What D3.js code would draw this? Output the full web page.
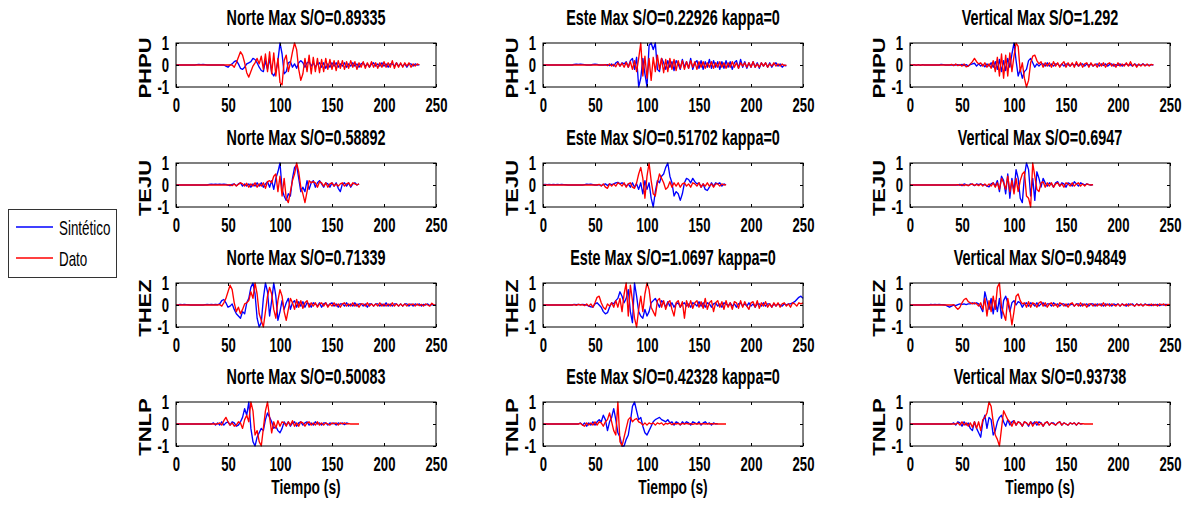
<!DOCTYPE html>
<html><head><meta charset="utf-8">
<script src="https://cdn.jsdelivr.net/npm/d3@7"></script>
<style>
body{margin:0;background:#fff;}
svg{display:block;font-family:"Liberation Sans",Arial,Helvetica,sans-serif;}
</style>
</head><body>
<svg id="c" width="1189" height="510"></svg>
<script>
// ---------------- DATA ----------------
const sampleInterval = 2; // seconds between samples
const stations = ["PHPU","TEJU","THEZ","TNLP"];
const components = ["Norte","Este","Vertical"];
const ratioNorte = ["0.89335","0.58892","0.71339","0.50083"];
const ratioEste = ["0.22926","0.51702","1.0697","0.42328"];
const ratioVertical = ["1.292","0.6947","0.94849","0.93738"];
const kappaSuffix = ["", " kappa=0", ""];
const xTicks = [0,50,100,150,200,250];
const yTicks = [-1,0,1];
const yTickLabels = ["-1","0","1"];
const xLabel = "Tiempo (s)";
const legendLabels = ["Sintético","Dato"];

// PHPU
const norte_PHPU_dato = [0,0,0,0,0,0,0,0,0,0,0,0,0,0,0,0,0,0,0,0,0,0,0,0,0,0,0,0,
-0.1,0.1,0.35,0.6,0.45,0.1,-0.35,-0.55,-0.3,-0.05,
0.1,0.3,0.05,0.4,-0.2,0.5,-0.3,0.6,-0.4,0.55,
-0.5,0.3,-0.8,-0.9,0.2,0.45,-0.3,0.1,0.6,1.0,
0.7,-0.2,-0.7,-0.4,0.3,-0.3,0.45,-0.4,0.35,-0.3,
0.3,-0.35,0.25,-0.3,0.3,-0.2,0.25,-0.2,0.2,-0.25,
0.2,-0.15,0.2,-0.2,0.15,-0.15,0.2,-0.1,0.15,-0.2,
0.1,-0.1,0.15,-0.15,0.1,-0.1,0.15,-0.1,0.1,-0.15,
0.1,-0.1,0.15,-0.1,0.1,-0.1,0.2,-0.15,0.1,-0.1,
0.1,-0.1,0.1,-0.05,0.1,-0.1,0.05,-0.05,0.05,0];
const norte_PHPU_sint = [0,0,0,0,0,0,0,0,0,0,
0.02,0.03,0.02,0.03,0.02,0,
0,0,0,0,0,0,0,0,
-0.05,-0.1,0,0.05,0.15,0.2,0.05,-0.15,-0.2,-0.1,
0.05,0.1,0.15,0.3,0.25,0.1,-0.1,-0.25,-0.3,0.2,
-0.2,0.3,-0.35,-0.5,-0.3,0.2,1.0,0.5,-0.4,-0.3,
0.1,0.15,-0.1,0.05,-0.15,0.1,0.2,0.1,-0.1,0.1,
0.15,-0.05,0.1,-0.1,0.05,0.1,-0.1,0.1,-0.15,0.05,
-0.1,0.1,-0.05,0.1,-0.1,0.05,-0.05,0.1,-0.1,0.05,
-0.05,0.1,-0.05,0.05,-0.1,0.05,0.1,-0.05,0.05,-0.1,
0.05,0.1,-0.05,0.05,-0.05,0.1,-0.05,0.05,-0.1,0.05,
0.05,-0.05,0.1,-0.05,0.05,-0.05,0.05,-0.1,0.05,0.05,
-0.05,0.05,0,0.02];
const este_PHPU_dato = [0,0,0,0,0,0,0,0,0,0,0,0,0,0,0,0,0,0,0,0,0,0,0,0,0,0,0,0,0,0,
0.02,-0.03,0.05,-0.05,0.03,-0.08,0.1,-0.05,0.08,-0.1,
0.12,-0.1,0.15,-0.2,0.2,-0.3,0.3,1.0,-0.5,0.4,
-0.6,0.3,-0.7,0.35,-0.3,0.45,-0.2,0.3,-0.35,0.25,
-0.3,0.3,-0.2,0.25,-0.25,0.2,-0.15,0.2,-0.2,0.15,
-0.15,0.2,-0.1,0.15,-0.2,0.15,-0.1,0.15,-0.15,0.1,
-0.1,0.15,-0.15,0.1,-0.1,0.15,-0.1,0.1,-0.15,0.1,
-0.1,0.15,-0.1,0.1,-0.15,0.1,-0.05,0.1,-0.1,0.1,
-0.1,0.15,-0.1,0.05,-0.1,0.1,-0.05,0.1,-0.1,0.05,
-0.05,0.1,-0.05,0.05,-0.05,0.05,-0.03,0];
const este_PHPU_sint = [0,0,0,0,0,0,0,0,0,0,0,0,0,0,0,
0.03,0.04,0.03,0.04,0.03,0.02,0,0,0,0.03,
0.04,0.03,0,0,0,0,0.02,-0.03,0.05,-0.05,
0.1,0.15,-0.05,0.1,0.05,0.15,-0.1,0.2,0.3,-0.2,
0.35,-1.0,-0.6,0.3,-0.4,-1.0,0.9,1.0,0.7,1.0,
-0.2,-0.3,0.3,0.1,-0.2,0.2,-0.1,0.15,-0.25,0.2,
0.05,-0.2,0.25,-0.1,0.15,-0.15,0.3,-0.2,0.1,0.2,
-0.15,0.2,-0.2,0.15,-0.1,0.25,-0.15,0.2,-0.1,0.15,
-0.2,0.15,-0.15,0.2,-0.1,0.15,-0.2,0.1,0.2,-0.15,
0.25,-0.1,0.15,-0.15,0.1,-0.1,0.15,-0.1,0.1,-0.15,
0.1,-0.05,0.1,-0.1,0.1,-0.1,0.05,0.1,-0.05,0.05,
-0.1,0,-0.05];
const vert_PHPU_dato = [0,0,0,0,0,0,0,0,0,0,0,0,0,0,0,0,0,0,0,0,
0.03,-0.03,0.05,-0.03,0.02,-0.05,0.05,-0.08,-0.05,0.05,
0.15,0.3,0.15,0.05,0.1,-0.05,0.1,-0.1,0.05,-0.15,
0.2,-0.3,0.35,-0.5,0.5,-0.6,0.45,-0.5,0.55,-0.3,
0.4,1.0,0.85,-0.3,0.1,-0.6,-1.0,-0.7,0.1,0.4,
0.45,0.2,0.05,0.15,-0.1,0.1,-0.05,0.1,-0.1,0.15,
-0.05,0.1,-0.1,0.05,0.15,-0.1,0.1,-0.05,0.1,-0.1,
0.15,-0.05,0.1,-0.1,0.05,0.1,-0.1,0.1,-0.05,0.05,
-0.1,0.1,-0.05,0.1,-0.1,0.05,0.1,-0.05,0.05,-0.1,
0.1,-0.05,0.05,-0.05,0.1,-0.05,0.15,-0.05,0.05,-0.1,
0.05,-0.05,0.05,-0.05,0.05,-0.05,0.03,0];
const vert_PHPU_sint = [0.02,-0.02,0.02,-0.02,0.02,-0.02,0.02,0,
0,0,0,0,0,0,0,
0.03,0.02,
0,0,0,0,0,0,
0.02,-0.02,0.03,-0.03,0.02,-0.05,0.02,0.05,0.08,-0.05,
0.05,-0.05,0.03,-0.08,0.05,-0.05,0.1,-0.1,0.15,-0.2,
0.25,-0.3,0.2,-0.25,0.3,-0.1,0.5,1.0,0.2,-0.5,
-0.2,-0.6,-0.3,-0.2,0.2,0.3,0.1,-0.1,0.05,-0.05,
0.05,0.05,-0.05,0.1,-0.05,0.05,-0.05,0.05,0.05,-0.05,
0.05,-0.05,0.05,0.02,-0.05,0.05,-0.02,0.05,-0.05,0.02,
0.05,-0.05,0.05,-0.02,0.05,-0.05,0.02,0.05,-0.05,0.05,
-0.02,0.05,-0.05,0.02,0.05,-0.05,0.02,-0.02,0.05,-0.05,
0.02,0.05,-0.02,0.02,-0.05,0.05,-0.02,0.02,-0.02,0.05,
-0.02,0.02,-0.02,0.02,0];

// TEJU
const norte_TEJU_dato = [0,0,0,0,0,0,0,0,0,0,0,0,0,0,0,0,0,0,0,0,0,0,0,0,0,0,
0.02,-0.03,0.05,-0.05,0.03,0.1,0.05,-0.05,0.08,-0.1,
0.05,-0.05,0.1,-0.1,0.05,-0.05,0.1,-0.15,0.15,0.2,
0.1,0.4,0.5,-0.3,0.4,-0.5,0.3,-0.6,-0.8,-0.3,
0.2,0.5,1.0,0.6,-0.1,-0.4,-0.8,-0.3,0.2,0.1,
0.15,0.1,-0.1,0.15,0.1,-0.05,0.1,-0.1,0.05,0.1,
-0.05,0.05,-0.05,0.05,0.1,-0.05,0.05,0.1,-0.05,0.1,
0.05,0,0.05];
const norte_TEJU_sint = [0,0,0,0,0,0,0,0,0,0,0,0,0,0,0,0,
0.03,0.04,0.03,0.04,0.03,0.04,0.03,0.04,0.03,0,
-0.03,0.03,0.05,-0.03,0.05,0.1,-0.05,0.05,-0.05,0.05,
-0.1,0.05,-0.05,0.1,-0.05,0.1,-0.1,0.05,0.15,-0.1,
0.2,-0.2,0.3,0.6,1.0,-0.2,-0.5,-0.7,-0.4,-0.5,
0.3,0.8,0.9,0.3,-0.3,-0.1,-0.3,0.2,-0.2,0.1,
0.2,-0.1,0.1,0.2,0.05,-0.1,0.1,0.05,-0.1,0.1,
-0.05,0.1,-0.15,-0.3,0.05,0.1,-0.05,0.1,-0.1,0.05,
0.1,0,0.05];
const este_TEJU_dato = [0,0,0,0,0,0,0,0,0,0,0,0,0,0,0,0,0,0,0,0,0,0,0,0,0,0,0,
0.03,-0.05,0.05,-0.1,-0.15,0.05,-0.05,0.05,-0.05,0.1,
0.05,-0.05,0.1,-0.1,0.05,0.1,-0.1,-0.15,0.1,0.5,
0.8,0.3,-0.6,0.4,1.0,0.2,-0.4,-0.5,0.1,0.5,
0.3,0.1,-0.2,-0.1,0.15,-0.1,0.1,-0.05,0.1,-0.1,
0.05,0.1,-0.05,0.05,-0.1,0.1,0.05,-0.05,0.1,-0.1,
0.05,-0.05,0.1,-0.05,0.05,-0.1,0.05,0.05,-0.05,0.05,
0,0.02];
const este_TEJU_sint = [0.02,0.03,0.02,0.03,0.02,0.03,0.02,0.03,0.02,0.03,0.02,0.01,
0,0,0,0,0,0,0,0,
0.02,0.04,0.03,0.04,0.02,0,0,0.02,-0.03,0.02,
0.05,-0.02,0.05,0.02,0.05,0.1,0.12,0.05,0.1,0.05,
-0.05,0.05,-0.1,0.1,-0.1,0.05,-0.2,0.1,-0.4,0.2,
-0.2,0.1,-0.6,-1.0,-0.3,0.2,0.1,0.4,0.5,0.8,
1.0,0.4,0.1,-0.5,-0.3,-0.4,-0.7,-0.4,0.1,0.3,
0.25,0.1,0.3,0.15,0.05,0.1,-0.1,0.05,-0.2,-0.25,
-0.1,0.1,-0.05,0.1,0.05,0.1,-0.05,0.05,0];
const vert_TEJU_dato = [0,0,0,0,0,0,0,0,0,0,0,0,0,0,0,0,0,0,0,0,0,0,0,
0.02,-0.02,0.03,-0.03,0.02,-0.03,0.02,0.05,-0.02,0.03,
-0.03,0.05,-0.05,0.05,-0.05,0.05,-0.05,0.1,-0.1,0.1,
-0.2,0.3,0.1,-0.2,0.4,-0.3,0.2,-0.4,0.3,-0.3,
0.2,0.5,0.6,-0.5,-0.6,-1.0,1.0,0.4,-0.2,-0.3,
0.1,0.15,-0.1,0.1,-0.05,0.1,-0.1,0.05,0.1,-0.05,
0.05,-0.1,0.1,0.05,-0.05,0.1,-0.05,0.05,0.1,-0.05,
0.05,-0.05,0.05,0.02,0,0.02];
const vert_TEJU_sint = [0,0,0,0,0,0,0,0,0,0,0,0,0,0,0,0,0,0,0,0,0,0,0,0,
0.03,-0.03,0.05,0.02,-0.03,0.05,0.03,-0.03,0.05,0.02,
0.05,0,0.02,-0.05,-0.08,0.05,0.1,-0.05,0.2,-0.3,
0.4,0.2,-0.4,0.5,-0.6,0.3,-0.3,0.7,0.3,-0.6,
-0.8,0.4,1.0,0.7,-0.5,0.3,-0.7,0.6,0.3,-0.1,
0.3,0.1,-0.05,0.1,0.05,-0.1,0.1,0.15,-0.05,0.1,
0.05,-0.1,0.1,0.05,-0.05,0.15,0.05,-0.05,0.1,0.05,
0,0.05,0.02,0,0.02];

// THEZ
const norte_THEZ_dato = [0,0,0,0,0,0,0,0,0,0,0,0,0,0,0,0,0,0,0,0,0,
0.02,-0.05,0.1,0.3,0.6,0.9,0.7,0.1,-0.3,-0.1,
-0.4,-0.2,0.05,0.1,0.2,0.6,0.3,1.0,0.5,-0.4,
-0.7,-1.0,-0.3,0.4,0.8,0.5,-0.2,-0.6,0.2,0.7,
0.4,-0.3,-0.7,-0.2,0.3,0.1,-0.2,0.25,-0.1,0.2,
-0.15,0.1,0.2,-0.1,0.1,-0.05,0.1,-0.1,0.05,0.1,
-0.05,0.1,-0.1,0.05,-0.05,0.1,-0.05,0.05,-0.1,0.05,
0.1,-0.05,0.05,-0.05,0.1,-0.05,0.05,-0.1,0.05,0.05,
-0.05,0.1,-0.05,0.05,-0.05,0.05,-0.05,0.1,-0.05,0.05,
-0.05,0.05,-0.05,0.1,-0.05,0.05,-0.05,0.05,-0.05,0.05,
-0.05,0.05,0,0.05,-0.05,0.05,-0.03,0.03,-0.05,0.05,
0,-0.05,0.08,0,-0.02];
const norte_THEZ_sint = [0,0,
0.03,0.02,0.03,0.02,0.01,
0,0,0,0,0,0,0,
0.02,0.03,0.02,0.03,0.02,0.03,0.02,0.05,0.2,0.25,
0.1,-0.1,-0.05,0.05,-0.2,-0.4,-0.5,-0.6,-0.3,-0.4,
0.1,0.3,0.8,1.0,0.5,-0.6,-1.0,-0.8,0.3,1.0,
0.6,-0.5,0.2,1.0,0.4,-0.7,-0.3,0.2,-0.2,0.1,
0.3,-0.2,0.1,0.2,-0.1,0.15,-0.05,0.15,-0.1,0.1,
0.05,-0.1,0.1,0.05,-0.05,0.1,-0.1,0.05,0.1,-0.05,
0.05,0.1,-0.05,0.05,-0.1,0.05,0.05,-0.05,0.1,-0.05,
0.05,-0.05,0.1,-0.05,0.05,0.05,-0.05,0.05,-0.1,0.05,
0.05,-0.05,0.05,0.05,-0.05,0.05,-0.05,0.1,-0.05,0.05,
-0.05,0.05,0.05,-0.05,0.05,-0.05,0.05,0.05,-0.05,0.05,
-0.05,0.05,0,0.05,-0.05,0.03,0,0.05,-0.03,0.03,
-0.02,0];
const este_THEZ_dato = [0,0,0,0,0,0,0,0,0,0,0,0,0,0,0,
0.02,-0.02,0.03,0,0.02,-0.03,0.05,-0.05,0.05,-0.1,
0.1,0.35,0.4,0.1,-0.1,-0.2,0.05,-0.05,0.1,-0.1,
0.2,-0.1,0.3,-0.3,0.5,1.0,-0.5,0.9,0.2,-0.6,
-1.0,-0.2,0.4,-0.3,0.5,1.0,0.7,-0.1,-0.3,-0.5,
0.2,0.3,-0.1,0.2,-0.2,0.1,0.2,-0.2,-0.5,0.1,
0.2,-0.1,0.15,-0.6,0.2,-0.1,0.2,-0.15,0.1,0.2,
-0.1,0.15,-0.15,0.3,-0.2,0.1,0.2,-0.3,0.1,0.2,
-0.1,0.15,-0.2,0.2,-0.1,0.1,-0.2,0.15,0.1,-0.15,
0.2,-0.1,0.15,-0.05,-0.2,0.1,0.15,-0.1,0.2,-0.15,
0.1,-0.05,0.15,-0.1,0.05,-0.1,0.1,-0.05,0.1,-0.1,
0.05,0.1,-0.05,0.05,-0.1,0.1,0.05,-0.05,0.1,0.05,
0.1];
const este_THEZ_sint = [0,0,0,0,0,0,0,0,0,0,0,0,0,0,0,
0.03,0.02,0.03,0.02,0.03,0.02,0,-0.05,-0.08,-0.1,
0.05,0.1,0,-0.1,-0.3,-0.4,-0.35,-0.1,0.1,0.05,
0.2,0.3,0.6,0.4,0.1,0.3,0.7,-0.3,-0.8,1.0,
0.4,-0.3,-0.5,-0.6,-0.2,-0.5,-0.3,0.1,0.2,0.3,
0.1,-0.1,0.2,0.1,-0.1,0.15,-0.05,0.1,-0.1,0.05,
0.1,-0.1,0.05,0.1,-0.05,0.05,-0.1,0.1,0.05,-0.05,
0.15,-0.05,0.1,-0.1,0.1,0.05,-0.1,0.05,0.1,-0.05,
0.05,-0.1,0.1,0.05,-0.05,0.1,-0.05,0.05,-0.1,0.05,
0.1,-0.05,0.05,-0.05,0.1,-0.05,0.05,-0.1,0.05,0.05,
-0.05,0.1,-0.05,0.05,0.05,-0.1,0.05,-0.05,0.05,0,
-0.05,0.05,0,0.05,0.05,0.1,0.15,0.25,0.35,0.4,
0.3];
const vert_THEZ_dato = [0,0,0,0,0,0,0,0,0,0,0,0,0,0,0,0,0,0,0,0,0,
0.02,-0.1,-0.2,-0.1,0.1,0.25,0.3,0.15,0.1,0.05,
0.1,0.05,-0.05,0.1,-0.2,0.3,-0.5,0.2,-0.3,0.4,
-0.2,0.8,1.0,-0.1,-0.4,-0.7,0.3,-0.2,-0.9,-0.3,
0.4,0.5,0.2,0.05,0.1,-0.1,0.15,-0.1,0.1,0.05,
-0.1,0.1,0.15,-0.05,0.1,-0.1,0.05,0.1,-0.05,0.05,
-0.1,0.1,0.05,-0.05,0.05,-0.1,0.05,0.1,-0.05,0.05,
-0.05,0.1,-0.05,0.05,-0.1,0.05,0.05,-0.05,0.05,-0.05,
0.05,-0.05,0.1,-0.05,0.05,-0.05,0.05,0,-0.05,0.05,
-0.05,0.05,-0.03,0.05,-0.05,0.05,0,-0.05,0.05,-0.03,
0.05,-0.05,0.03,0,-0.03,0.05,-0.03,0.03,-0.05,0.05,
0,0.05,-0.03,0.03,0];
const vert_THEZ_sint = [0,0,0,0,0,0,0,0,0,0,
0.03,0.02,0.03,0.02,0.03,0.02,0.01,0,-0.05,-0.1,
-0.05,0,-0.03,0.02,0.05,0.03,0.05,0.02,0.05,0.05,
0.1,0.05,0.1,0.05,-0.1,-0.3,0.6,0.2,-0.2,0.3,
-0.4,0.2,-0.3,0.3,-0.6,0.2,0.4,0.1,-0.3,0.1,
0.2,0,0.15,0.1,-0.1,0.05,0.1,-0.05,0.1,0.05,
-0.05,0.1,-0.05,0.05,0.1,-0.05,0.05,0.05,-0.05,0.1,
0,0.05,-0.05,0.05,0.05,-0.05,0.05,0,0.05,-0.05,
0.05,0.05,-0.05,0.05,0,0.05,-0.05,0.05,0.05,-0.05,
0.05,0,0.05,-0.05,0.05,0,0.05,-0.05,0.05,0,
0.05,-0.05,0.05,0,-0.05,0.05,0,0.05,-0.05,0.05,
0,0.03,-0.03,0.05,0,0.03,-0.03,0.03,0,0.03,
-0.03,0.03,0,0.03,0,0.02];

// TNLP
const norte_TNLP_dato = [0,0,0,0,0,0,0,0,0,0,0,0,0,0,0,0,0,0,0,0,0,
0.05,-0.05,0.15,0.3,0.1,-0.05,0.05,-0.1,-0.05,0.1,
0.05,-0.2,0.2,0.4,0.1,1.0,0.6,-0.5,-0.3,-0.8,
-1.0,-0.2,0.6,1.0,0.3,-0.4,0.1,-0.2,0.15,-0.1,
0.1,0.05,-0.1,0.1,-0.05,0.15,-0.1,0.05,-0.1,0.1,
0.05,-0.1,0.05,0.1,-0.05,0.05,-0.05,0.1,-0.05,0.05,
-0.05,0.05,0,-0.05,0.05,0,0.05,-0.05,0.05,0,
0.05,0,0.02,0,0,0,0,0];
const norte_TNLP_sint = [0,0,0,0,0,0,0,0,0,0,0,0,0,0,0,0,0,0,
0.05,-0.05,0.05,-0.05,0.1,-0.05,0.05,0.1,-0.05,0.1,
0.05,-0.1,-0.05,0.1,0.3,0.7,0.4,1.0,-0.2,-0.8,
-1.0,-0.6,-0.4,-0.2,-0.3,0.2,0.5,0.3,0.1,-0.2,
-0.1,-0.3,-0.4,-0.2,0.1,-0.05,0.1,-0.1,0.05,0.1,
-0.1,0.05,0.1,-0.05,0.05,0.1,-0.05,0.05,-0.05,0.1,
0,0.05,-0.05,0.05,0.05,-0.05,0.05,0,0.05,-0.05,
0.05,0,0.05,-0.03,0.05,0.02];
const este_TNLP_dato = [0,0,0,0,0,0,0,0,0,0,0,0,0,0,0,0,0,0,
0.03,-0.05,-0.1,0.05,-0.05,0.05,-0.05,0.1,-0.05,0.1,
0.05,-0.1,0.1,0.2,0.5,0.1,-0.3,-0.5,1.0,-0.8,
-1.0,-0.6,-0.2,0.2,0.3,0.1,0.2,0.25,0.1,0.05,
-0.05,0.05,-0.05,0.05,0,0.05,-0.05,0.05,0,0.05,
-0.05,0.03,0,0.05,-0.03,0.03,0,0.03,-0.03,0.03,
0,0.03,0,0.02,-0.02,0.02,0,0.02,0,0.02,
0,0.02,0,0.02,0,0.02,0,0,0,0,0];
const este_TNLP_sint = [0,0,0,0,0,0,0,0,0,0,0,0,0,0,0,0,0,0,
0.05,-0.05,0.05,-0.1,0.05,-0.05,0.1,-0.05,0.1,0.2,
0.1,0.4,0.2,-0.3,0.1,0.3,0.7,0.2,-0.4,-0.6,
-1.0,-1.0,-0.7,-0.5,0.1,0.8,1.0,0.6,0.2,0.3,
-0.1,-0.4,-0.5,-0.3,-0.1,0.1,0.2,0.25,0.3,0.2,
0.15,0.1,0.2,0.05,0.1,-0.05,0.1,0.05,-0.05,0.1,
0,0.1,0.05,-0.05,0.1,0.05,0,0.1,-0.05,0.05,
0.1,0,0.05,-0.05,0.05,0,0.02];
const vert_TNLP_dato = [0,0,0,0,0,0,0,0,0,0,0,0,0,0,0,0,0,0,0,0,0,0,0,
0.05,-0.05,0.1,-0.05,0.05,-0.1,0.05,-0.15,0.1,-0.2,
0.1,-0.3,0.2,0.3,0.5,1.0,0.8,0.1,-0.5,-0.7,
-1.0,-0.2,0.6,0.4,0.2,0.1,-0.1,0.15,-0.05,0.1,
0.05,-0.1,0.1,0.05,-0.05,0.1,-0.1,0.05,0.1,-0.05,
0.05,-0.1,0.05,0.1,-0.05,0.05,0,-0.05,0.05,0.1,
-0.05,0.05,0,-0.05,0.05,0,0.05,-0.05,0.05,0,
0.02,0,0,0,0,0];
const vert_TNLP_sint = [0,0,0,0,0,0,0,0,0,0,0,0,0,0,0,0,0,0,0,0,0,
0.05,-0.05,0.1,0.05,-0.1,0.1,-0.05,0.05,-0.2,-0.3,
0.1,-0.2,-0.4,-0.6,0.1,0.4,-0.2,0.3,0.2,-0.5,
-0.3,0.1,0.3,0.4,0.1,-0.1,0.2,-0.05,0.1,0.15,
-0.05,0.1,0.05,-0.1,0.1,0.05,-0.1,0.1,0,0.1,
-0.05,0.1,0.05,-0.1,0.05,0.1,-0.05,0.05,0.05,-0.05,
0.05,0.1,-0.05,0.05,0,-0.05,0.05,0,0.05,-0.05,
0.05,0,0.02];

// tables built from the arrays above (rows = stations, cols = components)
const datoTable = [
  [norte_PHPU_dato, este_PHPU_dato, vert_PHPU_dato],
  [norte_TEJU_dato, este_TEJU_dato, vert_TEJU_dato],
  [norte_THEZ_dato, este_THEZ_dato, vert_THEZ_dato],
  [norte_TNLP_dato, este_TNLP_dato, vert_TNLP_dato]];
const sintTable = [
  [norte_PHPU_sint, este_PHPU_sint, vert_PHPU_sint],
  [norte_TEJU_sint, este_TEJU_sint, vert_TEJU_sint],
  [norte_THEZ_sint, este_THEZ_sint, vert_THEZ_sint],
  [norte_TNLP_sint, este_TNLP_sint, vert_TNLP_sint]];
const ratioTable = [ratioNorte, ratioEste, ratioVertical];

// ---------------- LAYOUT ----------------
const colLeft = [176, 543, 910];
const rowTop = [43, 163, 283, 402];
const plotW = 260, plotH = 44;
const SX = 0.655; // horizontal text compression seen in the reference
const colorSint = "#0000ff", colorDato = "#ff0000";
const FONT = '"Liberation Sans",Arial,Helvetica,sans-serif';

const svg = d3.select("#c");
svg.append("rect").attr("width",1189).attr("height",510).attr("fill","#fff");

stations.forEach((st, r) => {
  components.forEach((comp, c) => {
    const x = d3.scaleLinear().domain([xTicks[0], xTicks[xTicks.length-1]]).range([colLeft[c], colLeft[c] + plotW]);
    const y = d3.scaleLinear().domain([yTicks[0], yTicks[yTicks.length-1]]).range([rowTop[r] + plotH, rowTop[r]]);
    const g = svg.append("g");

    const line = d3.line().x((d, i) => x(i * sampleInterval)).y(d => y(d));
    g.append("path").datum(sintTable[r][c]).attr("d", line)
      .attr("fill","none").attr("stroke",colorSint).attr("stroke-width",1.35).attr("stroke-linejoin","round");
    g.append("path").datum(datoTable[r][c]).attr("d", line)
      .attr("fill","none").attr("stroke",colorDato).attr("stroke-width",1.35).attr("stroke-linejoin","round");

    // box
    g.append("rect").attr("x", x(0)).attr("y", y(1)).attr("width", x(250) - x(0)).attr("height", y(-1) - y(1))
      .attr("fill","none").attr("stroke","#000").attr("stroke-width",1);

    const styleAxis = sel => {
      sel.attr("font-family", FONT).attr("font-size", 20).attr("font-weight","bold");
      sel.select(".domain").remove();
    };
    const bottom = g.append("g").attr("transform",`translate(0,${y(-1)})`)
      .call(d3.axisBottom(x).tickValues(xTicks).tickSizeInner(-3).tickSizeOuter(0).tickPadding(10.5).tickFormat(d3.format("d")));
    styleAxis(bottom);
    bottom.selectAll("text").attr("transform",`scale(${SX},1)`).attr("fill","#000");
    const top = g.append("g").attr("transform",`translate(0,${y(1)})`)
      .call(d3.axisTop(x).tickValues(xTicks).tickSizeInner(-3).tickSizeOuter(0).tickFormat(""));
    styleAxis(top);
    const left = g.append("g").attr("transform",`translate(${x(0)},0)`)
      .call(d3.axisLeft(y).tickValues(yTicks).tickSizeInner(-3).tickSizeOuter(0).tickPadding(10.5)
        .tickFormat((d, i) => yTickLabels[i]));
    styleAxis(left);
    left.selectAll("text").attr("transform",`scale(${SX},1)`).attr("fill","#000");
    const right = g.append("g").attr("transform",`translate(${x(250)},0)`)
      .call(d3.axisRight(y).tickValues(yTicks).tickSizeInner(-3).tickSizeOuter(0).tickFormat(""));
    styleAxis(right);

    // title
    svg.append("g").attr("transform",`translate(${(x(0)+x(250))/2},${rowTop[r]-18}) scale(${SX},1)`)
      .append("text").attr("text-anchor","middle")
      .attr("font-family",FONT).attr("font-size",22).attr("font-weight","bold").attr("fill","#000")
      .text(`${comp} Max S/O=${ratioTable[c][r]}${kappaSuffix[c]}`);

    // station label
    svg.append("g").attr("transform",`translate(${x(0)-31},${(y(1)+y(-1))/2+3}) scale(0.75,1) rotate(-90)`)
      .append("text").attr("text-anchor","middle").attr("dy","0.36em")
      .attr("font-family",FONT).attr("font-size",22).attr("font-weight","bold").attr("fill","#000")
      .text(st);

    // x label on last row
    if (r === stations.length - 1) {
      svg.append("g").attr("transform",`translate(${(x(0)+x(250))/2},494) scale(${SX},1)`)
        .append("text").attr("text-anchor","middle")
        .attr("font-family",FONT).attr("font-size",21).attr("font-weight","bold").attr("fill","#000")
        .text(xLabel);
    }
  });
});

// legend
const leg = svg.append("g");
leg.append("rect").attr("x",8.5).attr("y",209.5).attr("width",108).attr("height",68)
  .attr("fill","#fff").attr("stroke","#333").attr("stroke-width",1);
const legColors = [colorSint, colorDato];
const legY = [227, 258];
legendLabels.forEach((lab, i) => {
  leg.append("line").attr("x1",16).attr("x2",53).attr("y1",legY[i]).attr("y2",legY[i])
    .attr("stroke",legColors[i]).attr("stroke-width",1.3);
  leg.append("g").attr("transform",`translate(59,${legY[i]+7.5}) scale(0.67,1)`)
    .append("text").attr("font-family",FONT).attr("font-size",20).attr("fill","#000").text(lab);
});
</script>
</body></html>
